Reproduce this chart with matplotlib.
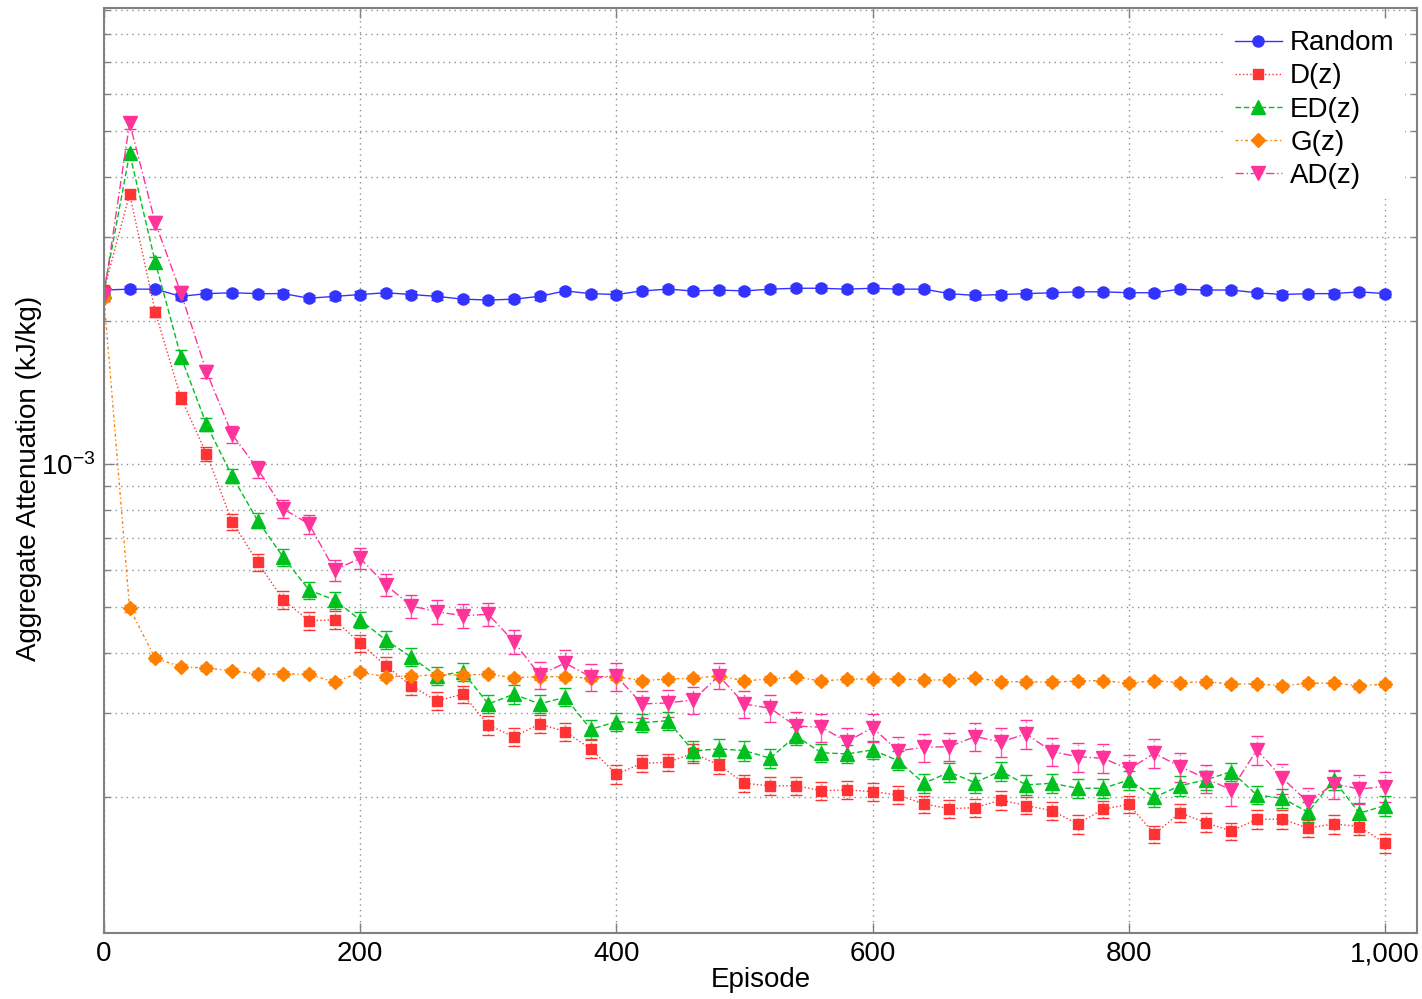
import numpy as np
import matplotlib
matplotlib.use("Agg")
import matplotlib.pyplot as plt
from matplotlib.lines import Line2D
from matplotlib.ticker import LogLocator, FixedLocator, FuncFormatter, NullFormatter

plt.rcParams['font.family'] = ['Liberation Sans', 'DejaVu Sans']
plt.rcParams['mathtext.fontset'] = 'custom'
plt.rcParams['mathtext.rm'] = 'Liberation Sans'

# Episodes
episodes = list(range(0, 1001, 20))

# Values in units of 1e-3 kJ/kg
random_vals = [2.32, 2.33, 2.33, 2.25, 2.28, 2.29, 2.28, 2.28, 2.23, 2.25,
               2.27, 2.29, 2.27, 2.25, 2.22, 2.21, 2.22, 2.25, 2.31, 2.28,
               2.27, 2.31, 2.33, 2.31, 2.32, 2.31, 2.33, 2.34, 2.34, 2.33,
               2.34, 2.33, 2.33, 2.28, 2.26, 2.27, 2.28, 2.29, 2.30, 2.30,
               2.29, 2.29, 2.33, 2.32, 2.32, 2.29, 2.27, 2.28, 2.28, 2.30,
               2.28]
d_vals = [2.321, 3.692, 2.089, 1.378, 1.051, 0.7563, 0.6217, 0.5179, 0.4686, 0.4702,
          0.4201, 0.3770, 0.3416, 0.3178, 0.3283, 0.2829, 0.2670, 0.2843, 0.2740, 0.2520,
          0.2229, 0.2350, 0.2362, 0.2467, 0.2331, 0.2134, 0.2106, 0.2109, 0.2059, 0.2066,
          0.2049, 0.2016, 0.1931, 0.1887, 0.1896, 0.1968, 0.1915, 0.1869, 0.1753, 0.1882,
          0.1928, 0.1668, 0.1851, 0.1764, 0.1694, 0.1793, 0.1793, 0.1717, 0.1753, 0.1730,
          0.1596]
ed_vals = [2.31, 4.494, 2.657, 1.682, 1.211, 0.9436, 0.7600, 0.6368, 0.5436, 0.5179,
           0.4702, 0.4268, 0.3926, 0.3586, 0.3662, 0.3132, 0.3283, 0.3132, 0.3235, 0.2770,
           0.2874, 0.2860, 0.2888, 0.2495, 0.2520, 0.2499, 0.2408, 0.2683, 0.2474, 0.2459,
           0.2507, 0.2380, 0.2134, 0.2251, 0.2140, 0.2265, 0.2117, 0.2134, 0.2083, 0.2083,
           0.2168, 0.1994, 0.2109, 0.2168, 0.2258, 0.2016, 0.1984, 0.1855, 0.2168, 0.1846,
           0.1915]
g_vals = [2.229, 0.4973, 0.3907, 0.3752, 0.3723, 0.3680, 0.3616, 0.3621, 0.3616, 0.3479,
          0.3651, 0.3574, 0.3586, 0.3603, 0.3603, 0.3616, 0.3557, 0.3574, 0.3574, 0.3547,
          0.3574, 0.3506, 0.3535, 0.3547, 0.3586, 0.3501, 0.3535, 0.3564, 0.3501, 0.3530,
          0.3535, 0.3535, 0.3518, 0.3518, 0.3557, 0.3488, 0.3488, 0.3479, 0.3501, 0.3506,
          0.3462, 0.3506, 0.3472, 0.3488, 0.3450, 0.3450, 0.3421, 0.3462, 0.3462, 0.3421,
          0.3445]
ad_vals = [2.265, 5.212, 3.213, 2.291, 1.563, 1.154, 0.9761, 0.8044, 0.7482, 0.5989,
           0.6336, 0.5569, 0.5030, 0.4893, 0.4800, 0.4832, 0.4234, 0.3603, 0.3818, 0.3568,
           0.3582, 0.3132, 0.3147, 0.3193, 0.3589, 0.3130, 0.3068, 0.2815, 0.2797, 0.2610,
           0.2793, 0.2495, 0.2540, 0.2547, 0.2674, 0.2606, 0.2709, 0.2486, 0.2427, 0.2408,
           0.2284, 0.2467, 0.2312, 0.2186, 0.2066, 0.2507, 0.2186, 0.1947, 0.2127, 0.2076,
           0.2100]

# Error bar half-widths (same units)
random_err = [0.035, 0.035, 0.034, 0.034, 0.035, 0.034, 0.034, 0.035, 0.034, 0.034,
              0.035, 0.034, 0.034, 0.035, 0.034, 0.034, 0.034, 0.035, 0.035, 0.034,
              0.034, 0.035, 0.035, 0.034, 0.035, 0.034, 0.035, 0.035, 0.035, 0.034,
              0.035, 0.035, 0.034, 0.034, 0.034, 0.034, 0.035, 0.034, 0.035, 0.034,
              0.034, 0.035, 0.035, 0.034, 0.035, 0.034, 0.034, 0.034, 0.035, 0.034,
              0.034]
d_err = [0.05, 0.08, 0.05, 0.04, 0.035, 0.03, 0.025, 0.022, 0.02, 0.02,
         0.018, 0.016, 0.015, 0.014, 0.014, 0.013, 0.012, 0.012, 0.012, 0.011,
         0.01, 0.01, 0.01, 0.011, 0.01, 0.009, 0.009, 0.009, 0.009, 0.009,
         0.009, 0.009, 0.008, 0.008, 0.008, 0.009, 0.008, 0.008, 0.008, 0.008,
         0.008, 0.007, 0.008, 0.008, 0.007, 0.008, 0.008, 0.007, 0.008, 0.007,
         0.007]
ed_err = [0.05, 0.1, 0.06, 0.05, 0.04, 0.032, 0.028, 0.025, 0.022, 0.021,
          0.019, 0.018, 0.017, 0.016, 0.016, 0.014, 0.015, 0.014, 0.014, 0.013,
          0.013, 0.013, 0.013, 0.012, 0.012, 0.012, 0.011, 0.012, 0.011, 0.011,
          0.011, 0.011, 0.01, 0.01, 0.01, 0.0105, 0.01, 0.01, 0.01, 0.01,
          0.01, 0.009, 0.01, 0.01, 0.01, 0.009, 0.009, 0.009, 0.01, 0.009,
          0.009]
g_err = [0.03, 0.008, 0.006, 0.005, 0.005, 0.005, 0.005, 0.005, 0.005, 0.005,
         0.005, 0.005, 0.005, 0.005, 0.005, 0.005, 0.005, 0.005, 0.005, 0.005,
         0.005, 0.005, 0.005, 0.005, 0.005, 0.005, 0.005, 0.005, 0.005, 0.005,
         0.005, 0.005, 0.005, 0.005, 0.005, 0.005, 0.005, 0.005, 0.005, 0.005,
         0.005, 0.005, 0.005, 0.005, 0.005, 0.005, 0.005, 0.005, 0.005, 0.005,
         0.005]
ad_err = [0.07, 0.15, 0.10, 0.07, 0.05, 0.046, 0.04, 0.036, 0.034, 0.03,
          0.032, 0.03, 0.028, 0.028, 0.028, 0.027, 0.025, 0.023, 0.024, 0.024,
          0.024, 0.021, 0.021, 0.021, 0.023, 0.021, 0.02, 0.019, 0.019, 0.018,
          0.019, 0.017, 0.017, 0.017, 0.018, 0.018, 0.019, 0.017, 0.017, 0.017,
          0.016, 0.017, 0.016, 0.015, 0.015, 0.018, 0.016, 0.014, 0.015, 0.015,
          0.015]

labels = ['Random', 'D(z)', 'ED(z)', 'G(z)', 'AD(z)']
colors = ['#3333ff', '#ff3333', '#00c020', '#ff8000', '#ff3399']
markers = ['o', 's', '^', 'D', 'v']
msizes = [8, 7.5, 10, 7, 10]
lstyles = ['-', ':', (0, (4, 2)), (0, (2, 2, 1, 2)), (0, (6, 2, 1, 2))]

series = [(random_vals, random_err), (d_vals, d_err), (ed_vals, ed_err),
          (g_vals, g_err), (ad_vals, ad_err)]

fig = plt.figure(figsize=(14.22, 9.99), dpi=100)
ax = fig.add_axes([104/1422, 1 - 933/999, (1417 - 104)/1422, (933 - 8)/999])

x = np.array(episodes)
handles = []
for (vals, err), lab, c, m, ms, ls in zip(series, labels, colors, markers, msizes, lstyles):
    y = np.array(vals) * 1e-3
    e = np.array(err) * 1e-3
    cont = ax.errorbar(x, y, yerr=e, color=c, marker=m, markersize=ms, linestyle=ls,
                       linewidth=1.0, elinewidth=1.0, capsize=4, capthick=1.0,
                       markeredgecolor=c)
    for bl in cont[2]:
        bl.set_linestyle(ls)
        bl.set_alpha(0.8)
    handles.append(Line2D([], [], color=c, marker=m, markersize=ms, linestyle=ls,
                          linewidth=1.0, markeredgecolor=c, label=lab))

ax.set_yscale('log')
ax.set_xlim(0, 1025)
ax.set_ylim(1.034e-4, 9.08e-3)

ax.set_xticks([0, 200, 400, 600, 800, 1000])
ax.set_xticklabels(['0', '200', '400', '600', '800', '1,000'])
ax.yaxis.set_major_locator(FixedLocator([1e-3]))
ax.yaxis.set_major_formatter(FuncFormatter(lambda v, p: r'$\mathregular{10^{-3}}$'))
ax.yaxis.set_minor_locator(LogLocator(base=10, subs=np.arange(2, 10)))
ax.yaxis.set_minor_formatter(NullFormatter())

ax.tick_params(axis='both', which='both', direction='in', top=True, right=True,
               labelsize=20, color='#808080')
ax.tick_params(axis='both', which='major', length=7, width=1)
ax.tick_params(axis='both', which='minor', length=4, width=1)
ax.tick_params(axis='x', pad=6)
ax.tick_params(axis='y', pad=6)

ax.grid(True, which='major', axis='x', linestyle=(0, (1, 3)), color='#909090', linewidth=1)
ax.grid(True, which='both', axis='y', linestyle=(0, (1, 3)), color='#909090', linewidth=1)
ax.set_axisbelow(True)

for sp in ax.spines.values():
    sp.set_color('#808080')
    sp.set_linewidth(1.5)

ax.set_xlabel('Episode', fontsize=20, labelpad=0)
ax.set_ylabel('Aggregate Attenuation (kJ/kg)', fontsize=20)
ax.yaxis.set_label_coords(-0.047, 0.492)

leg = ax.legend(handles=handles, loc='upper right', fontsize=20, frameon=True,
                framealpha=1, edgecolor='none', handlelength=1.7, handletextpad=0.3,
                labelspacing=0.26, borderaxespad=0.45, borderpad=0.35)

fig.savefig('out.png', dpi=100)
